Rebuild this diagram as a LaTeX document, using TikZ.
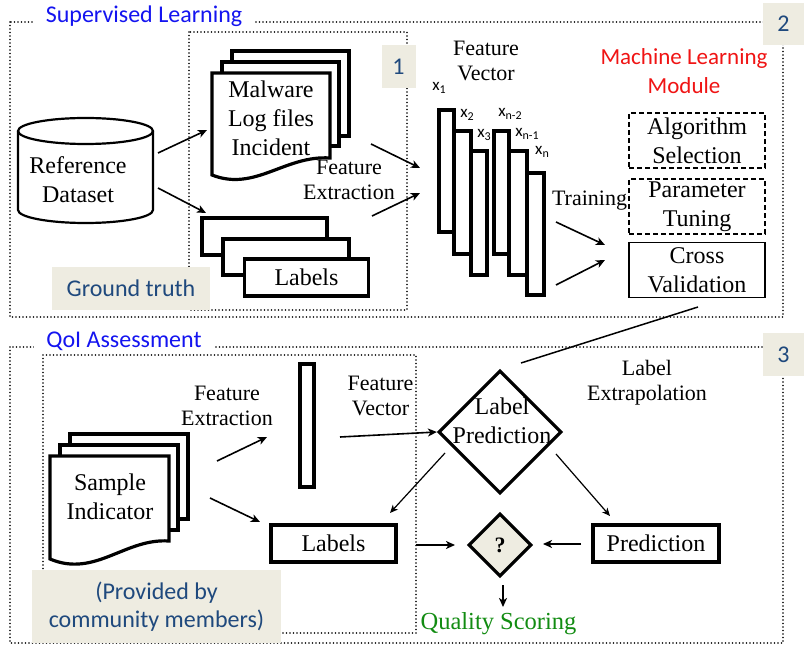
\documentclass[tikz,border=0pt]{standalone}
\usepackage{fontspec}
\setmainfont{Liberation Serif}
\newfontfamily\calfont{Carlito}
\usetikzlibrary{shapes.geometric,arrows.meta}
\definecolor{beige}{HTML}{EEECE1}
\definecolor{darkblue}{HTML}{1F497D}
\definecolor{titleblue}{HTML}{1414F0}
\definecolor{mlred}{HTML}{F01414}
\definecolor{qgreen}{HTML}{128C12}
\newcommand{\xsub}[1]{x\raisebox{-3.5pt}{\fontsize{12}{12}\selectfont #1}}
\tikzset{
  dotbox/.style={line width=1.6pt, dash pattern=on 0pt off 3.5pt, line cap=round},
  thickln/.style={line width=3.2pt, line join=miter},
  arr/.style={line width=1.6pt, -{Stealth[length=9pt,width=8pt,inset=2.5pt]}},
  thinarr/.style={line width=1.2pt, -{Stealth[length=8pt,width=7pt,inset=2.2pt]}},
  txt/.style={inner sep=0pt, align=center, font=\fontsize{24}{29}\selectfont},
  smtxt/.style={inner sep=0pt, align=center, font=\fontsize{22}{25}\selectfont},
  xlab/.style={inner sep=0pt, font=\calfont\fontsize{17}{17}\selectfont},
  title/.style={fill=white, inner xsep=12pt, inner ysep=3pt, text=titleblue, font=\calfont\fontsize{24}{28}\selectfont},
  tag/.style={fill=beige, draw=none, inner sep=0pt, align=center, text=darkblue, font=\calfont\fontsize{24}{28}\selectfont},
  stackbox/.style={draw, fill=white, line width=3.2pt, inner sep=0pt},
  mlbox/.style={draw, line width=1.4pt, inner sep=0pt, minimum width=136, minimum height=55, align=center, font=\fontsize{24}{29}\selectfont},
  vbar/.style={draw, fill=white, line width=3.2pt}
}
\begin{document}
\begin{tikzpicture}[x=1pt,y=-1pt]
\useasboundingbox[fill=white] (0,0) rectangle (804,647);

% ---------- dotted frames ----------
\draw[dotbox] (10,22) rectangle (783,317);
\draw[dotbox] (189,32) rectangle (407,310);
\draw[dotbox] (10,347) rectangle (783,643);
\draw[dotbox] (43,355) rectangle (416,633);

% titles and tags
\node[title] (suptitle) at (144,16) {Supervised Learning};
\node[title] (qoititle) at (124,341) {QoI Assessment};
\node[tag, minimum width=34, minimum height=43] (tagone) at (398.5,66.5) {1};
\node[tag, minimum width=41, minimum height=42] (tagtwo) at (783.5,24) {2};
\node[tag, minimum width=41, minimum height=43] (tagthree) at (783.5,354.5) {3};
\node[tag, minimum width=158, minimum height=43] (ground) at (131,288.5) {Ground truth};
\node[tag, minimum width=249, minimum height=73] (provided) at (156.5,606.5) {(Provided by\\community members)};

% ---------- Reference dataset cylinder ----------
\draw[line width=2.2pt, fill=white] (18,131) -- (18,210) arc[start angle=180, end angle=0, x radius=67.5, y radius=13] -- (153,131);
\draw[line width=2.2pt] (85.5,131) ellipse[x radius=67.5, y radius=13];
\node[txt] (refds) at (78,180) {Reference\\Dataset};

% ---------- Malware document stack ----------
\draw[stackbox] (232,51) rectangle (349,136);
\draw[stackbox] (222,62) rectangle (339,146);
\draw[thickln, fill=white] (212,73) -- (330,73) -- (330,158)
   .. controls (285,155) and (255,192) .. (212,175) -- cycle;
\node[txt] (malw) at (271,118) {Malware\\Log files\\Incident};

% ---------- Labels stack ----------
\draw[stackbox] (202,218) rectangle (327,255);
\draw[stackbox] (223,239) rectangle (349,275);
\node[stackbox, minimum width=124, minimum height=37, font=\fontsize{24}{29}\selectfont] (labtop) at (306.5,277.5) {Labels};

\node[smtxt] (fextop) at (349,180) {Feature\\Extraction};

% ---------- Feature vector bars ----------
\draw[vbar] (439,110) rectangle (454,232);
\draw[vbar] (454,131) rectangle (471,254);
\draw[vbar] (471,151) rectangle (487,275);
\draw[vbar] (494,131) rectangle (509,254);
\draw[vbar] (509,151) rectangle (527,275);
\draw[vbar] (527,173) rectangle (544,295);
\node[xlab] (xone) at (439,88) {\xsub{1}};
\node[xlab] (xtwo) at (467,115) {\xsub{2}};
\node[xlab] (xthree) at (484,135) {\xsub{3}};
\node[xlab] (xnm2) at (510,114) {\xsub{n-2}};
\node[xlab] (xnm1) at (527,134) {\xsub{n-1}};
\node[xlab] (xn) at (542,152) {\xsub{n}};
\node[smtxt] (fvtop) at (486,61) {Feature\\Vector};
\node[smtxt] (training) at (589.5,201) {Training};

% ---------- Machine learning module ----------
\node[inner sep=0pt, align=center, text=mlred, font=\calfont\fontsize{23}{29}\selectfont] (mlm) at (684,71) {Machine Learning\\Module};
\node[mlbox, dashed, dash pattern=on 5pt off 3pt] (algsel) at (697,140.5) {Algorithm\\Selection};
\node[mlbox, dashed, dash pattern=on 5pt off 3pt] (partun) at (697,206.5) {Parameter\\Tuning};
\node[mlbox] (crossv) at (697,270) {Cross\\Validation};

% ---------- arrows top ----------
\coordinate (a1s) at (158,153); \coordinate (a1e) at (207,130);
\coordinate (a2s) at (158,188); \coordinate (a2e) at (206,213);
\coordinate (a3s) at (371,144); \coordinate (a3e) at (420,168);
\coordinate (a4s) at (372,216); \coordinate (a4e) at (420,193);
\coordinate (a5s) at (556,222); \coordinate (a5e) at (605,245);
\coordinate (a6s) at (556,285); \coordinate (a6e) at (605,260);
\draw[arr] (a1s) -- (a1e);
\draw[arr] (a2s) -- (a2e);
\draw[arr] (a3s) -- (a3e);
\draw[arr] (a4s) -- (a4e);
\draw[arr] (a5s) -- (a5e);
\draw[arr] (a6s) -- (a6e);

% ---------- bottom part ----------
\draw[stackbox] (70,434) rectangle (188,519);
\draw[stackbox] (60,445) rectangle (178,530);
\draw[thickln, fill=white] (50,456) -- (169,456) -- (169,541)
   .. controls (125,538) and (95,578) .. (50,559) -- cycle;
\node[txt] (sample) at (110,497) {Sample\\Indicator};

\node[smtxt] (fexbot) at (227,406) {Feature\\Extraction};
\draw[vbar] (300,364) rectangle (314,487);
\node[smtxt] (fvbot) at (380.5,396) {Feature\\Vector};

\node[diamond, draw, line width=3.2pt, minimum width=123, minimum height=123, inner sep=0pt] (lp) at (500,432) {};
\node[txt] (lptext) at (502,421) {Label\\Prediction};
\node[smtxt] (lex) at (647,383) {Label\\Extrapolation};

\node[stackbox, minimum width=125, minimum height=37, font=\fontsize{24}{29}\selectfont] (labbot) at (333.5,543.5) {Labels};
\node[stackbox, minimum width=126, minimum height=37, font=\fontsize{24}{29}\selectfont] (pred) at (656,543.5) {Prediction};
\node[diamond, draw, fill=beige, line width=3.2pt, minimum width=63, minimum height=63, inner sep=0pt, font=\bfseries\fontsize{22}{22}\selectfont] (qm) at (500,545) {?};
\node[inner sep=0pt, text=qgreen, font=\fontsize{24.5}{29}\selectfont] (qscore) at (498.5,624) {Quality Scoring};

\coordinate (b1s) at (217,461); \coordinate (b1e) at (267,437);
\coordinate (b2s) at (210,498); \coordinate (b2e) at (260,522);
\coordinate (b3s) at (340,437);
\coordinate (b4s) at (445,453); \coordinate (b4e) at (390,513);
\coordinate (b5s) at (556,454); \coordinate (b5e) at (610,516);
\coordinate (b6s) at (416,545); \coordinate (b6e) at (455,545);
\coordinate (b7s) at (581,544); \coordinate (b7e) at (543,544);
\coordinate (b8s) at (503,585); \coordinate (b8e) at (503,607);
\coordinate (cvs) at (698,307); \coordinate (cve) at (521,363);
\draw[arr] (b1s) -- (b1e);
\draw[arr] (b2s) -- (b2e);
\draw[arr] (b3s) -- (lp.west);
\draw[thinarr] (b4s) -- (b4e);
\draw[thinarr] (b5s) -- (b5e);
\draw[arr] (b6s) -- (b6e);
\draw[arr] (b7s) -- (b7e);
\draw[arr] (b8s) -- (b8e);
\draw[line width=1.5pt] (cvs) -- (cve);
\end{tikzpicture}
\end{document}
